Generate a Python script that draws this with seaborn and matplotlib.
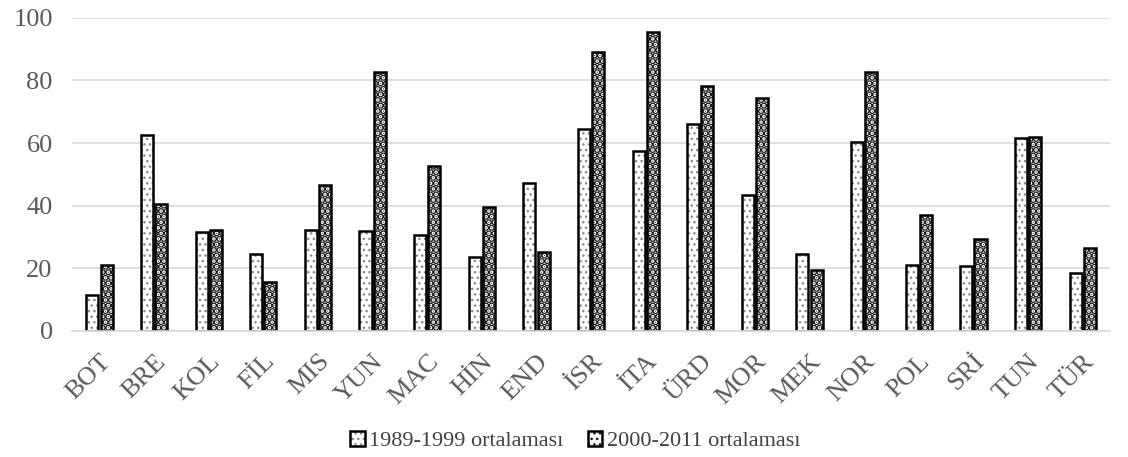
import matplotlib
matplotlib.use("Agg")
import matplotlib.pyplot as plt
import matplotlib.colors as mcolors
import seaborn as sns
import pandas as pd

categories = ["BOT", "BRE", "KOL", "FİL", "MIS", "YUN", "MAC", "HİN", "END", "İSR",
              "İTA", "ÜRD", "MOR", "MEK", "NOR", "POL", "SRİ", "TUN", "TÜR"]
series1_name = "1989-1999 ortalaması"
series2_name = "2000-2011 ortalaması"
series1 = [11.5, 62.6, 31.6, 24.4, 32.3, 32.0, 30.5, 23.7, 47.2, 64.5,
           57.6, 66.0, 43.4, 24.6, 60.4, 20.9, 20.6, 61.6, 18.4]
series2 = [21.2, 40.5, 32.2, 15.5, 46.5, 82.6, 52.6, 39.7, 25.1, 89.0,
           95.5, 78.3, 74.4, 19.6, 82.7, 37.1, 29.4, 61.8, 26.5]
yticks = [0, 20, 40, 60, 80, 100]

df = pd.DataFrame({
    "cat": categories * 2,
    "val": series1 + series2,
    "series": [series1_name] * len(categories) + [series2_name] * len(categories),
})

sns.set_theme(style="white")
plt.rcParams["font.family"] = ["Liberation Serif", "DejaVu Serif"]
plt.rcParams["hatch.linewidth"] = 1.0

fig = plt.figure(figsize=(11.28, 4.57), dpi=100)
ax = fig.add_axes([0.064, 0.276, 0.920, 0.685])

sns.barplot(data=df, x="cat", y="val", hue="series", ax=ax,
            palette=["white", "white"], width=0.52, gap=0.15,
            edgecolor="black", linewidth=1.8, saturation=1, legend=True)

n = len(categories)
patches = list(ax.patches)
bars1 = patches[:n]
bars2 = patches[n:2 * n]


def style(p, hatch, hc, hlw):
    p.set_hatch(hatch)
    p.set_edgecolor("black")
    if hasattr(p, "set_hatchcolor"):
        try:
            p.set_hatchcolor(hc)
        except Exception:
            pass
    p._hatch_color = mcolors.to_rgba(hc)
    if hasattr(p, "set_hatch_linewidth"):
        try:
            p.set_hatch_linewidth(hlw)
        except Exception:
            pass
    p._hatch_linewidth = hlw


for p in bars1:
    style(p, "...", "#8a8a8a", 1.0)
for p in bars2:
    style(p, "...", "#111111", 3.4)

ax.set_ylim(0, 100)
ax.set_yticks(yticks)
ax.set_xlim(-0.5, n - 0.5)
ax.yaxis.grid(True, color="#d9d9d9", linewidth=1.2)
ax.set_axisbelow(True)
for s in ["top", "right", "left"]:
    ax.spines[s].set_visible(False)
ax.spines["bottom"].set_color("#d9d9d9")
ax.spines["bottom"].set_linewidth(1.2)
ax.set_xlabel("")
ax.set_ylabel("")
ax.tick_params(axis="y", labelsize=19, labelcolor="#595959", length=0, pad=14)
ax.tick_params(axis="x", labelsize=19, labelcolor="#595959", length=0, pad=14)
for lab in ax.get_xticklabels():
    lab.set_rotation(45)
    lab.set_ha("right")
    lab.set_rotation_mode("anchor")

leg = ax.get_legend()
handles = leg.legend_handles
labels = [t.get_text() for t in leg.get_texts()]
leg.remove()
for h, hc, hlw in zip(handles, ["#8a8a8a", "#111111"], [1.0, 3.4]):
    style(h, "...", hc, hlw)
fig.legend(handles, labels, loc="center", bbox_to_anchor=(0.51, 0.035), ncol=2,
           frameon=False, fontsize=16, labelcolor="#404040", handlelength=0.65,
           handleheight=0.65, handletextpad=0.2, columnspacing=1.1)

fig.savefig("out.png", dpi=100)
